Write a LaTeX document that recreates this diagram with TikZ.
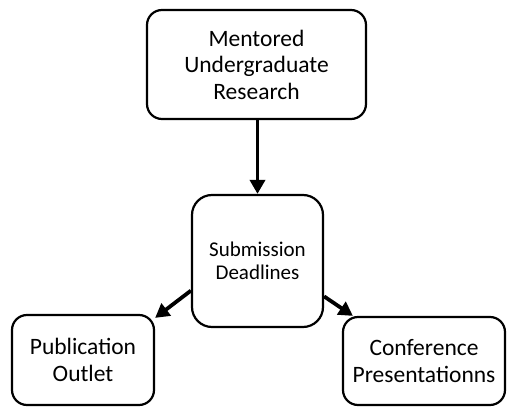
\documentclass[tikz,border=0pt]{standalone}
\usepackage{fontspec}
\setmainfont{Carlito}
\usetikzlibrary{arrows.meta,positioning,calc}

\begin{document}
\begin{tikzpicture}[x=1pt, y=1pt,
    box/.style={draw, line width=2.2pt, rounded corners=15pt, align=center,
      font=\fontsize{23.5}{26.5}\selectfont, inner sep=2pt},
    arr/.style={-{Triangle[length=14pt,width=15pt]}, line width=3.8pt}
  ]
  \useasboundingbox (0,0) rectangle (512,407);
  % boxes
  \node[box, minimum width=219pt, minimum height=109pt] (mur) at (256.5,342.5)
    {Mentored\\Undergraduate\\Research};
  \node[box, rounded corners=20pt, font=\fontsize{21}{23}\selectfont,
    minimum width=131pt, minimum height=132pt] (sub) at (257.5,146)
    {Submission\\Deadlines};
  \node[box, font=\fontsize{23.5}{27}\selectfont,
    minimum width=142pt, minimum height=90pt] (pub) at (83,47)
    {Publication\\Outlet};
  \node[box, font=\fontsize{23.5}{27}\selectfont,
    minimum width=162pt, minimum height=88pt] (conf) at (424,46)
    {Conference\\Presentationns};
  % arrows
  \draw[arr] (mur.south -| sub.north) -- (sub.north);
  \draw[arr] (sub.204) -- ([yshift=-4pt]pub.north east);
  \draw[arr] (sub.332) -- ([xshift=11pt]conf.north west);
\end{tikzpicture}
\end{document}
